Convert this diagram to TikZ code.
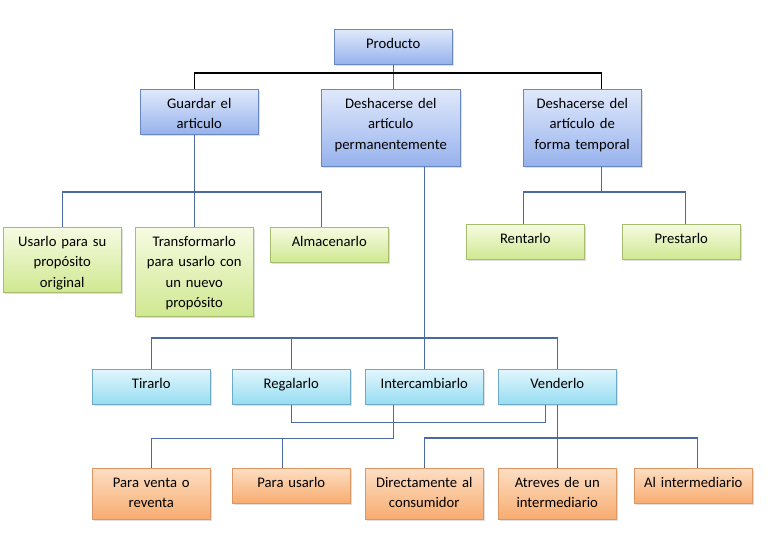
\documentclass[tikz,border=0pt]{standalone}
\usepackage{fontspec}
\setmainfont{Carlito}
\usetikzlibrary{calc,shadows}
\definecolor{linkblue}{RGB}{74,106,160}
\definecolor{bluetop}{RGB}{224,233,251}
\definecolor{bluebot}{RGB}{150,178,236}
\definecolor{blueline}{RGB}{105,135,195}
\definecolor{greentop}{RGB}{246,251,226}
\definecolor{greenbot}{RGB}{208,232,145}
\definecolor{greenline}{RGB}{165,190,110}
\definecolor{cyantop}{RGB}{226,246,252}
\definecolor{cyanbot}{RGB}{150,221,242}
\definecolor{cyanline}{RGB}{110,170,200}
\definecolor{orangetop}{RGB}{253,222,195}
\definecolor{orangebot}{RGB}{248,172,112}
\definecolor{orangeline}{RGB}{220,150,100}
\tikzset{
  bx/.style={rectangle,anchor=north west,inner xsep=1pt,inner ysep=0pt,
    text width=86.5pt,align=center,text height=14.25pt,text depth=#1,
    font=\fontsize{11}{15.4}\selectfont,
    drop shadow={shadow xshift=1.2pt,shadow yshift=-1.2pt,opacity=0.25}},
  wide/.style={text width=102.25pt},
  blu/.style={bx=#1,draw=blueline,top color=bluetop,bottom color=bluebot},
  grn/.style={bx=#1,draw=greenline,top color=greentop,bottom color=greenbot},
  cyn/.style={bx=#1,draw=cyanline,top color=cyantop,bottom color=cyanbot},
  org/.style={bx=#1,draw=orangeline,top color=orangetop,bottom color=orangebot},
  link/.style={draw=linkblue,line width=0.9pt},
  toplink/.style={draw=black,line width=0.9pt}
}
\begin{document}
\begin{tikzpicture}[x=0.75pt,y=-0.75pt]
  \path[fill=white] (0,0) rectangle (778,534);
  % first level
  \node[blu=12pt] (prod) at (334,29) {Producto};
  \node[blu=19.5pt] (guar) at (140,89) {Guardar el\\articulo};
  \node[blu=43.5pt,wide] (perm) at (321,89) {Deshacerse del\\artículo\\permanentemente};
  \node[blu=43.5pt] (temp) at (523,89) {Deshacerse del\\artículo de\\forma temporal};
  % green
  \node[grn=34.5pt] (usar) at (3,227) {Usarlo para su\\propósito\\original};
  \node[grn=52.5pt] (trans) at (135,227) {Transformarlo\\para usarlo con\\un nuevo\\propósito};
  \node[grn=12pt] (alma) at (270,227) {Almacenarlo};
  \node[grn=12pt] (rent) at (466,224) {Rentarlo};
  \node[grn=12pt] (pres) at (622,224) {Prestarlo};
  % cyan
  \node[cyn=12pt] (tira) at (92,369) {Tirarlo};
  \node[cyn=12pt] (rega) at (232,369) {Regalarlo};
  \node[cyn=12pt] (inter) at (365,369) {Intercambiarlo};
  \node[cyn=12pt] (vend) at (498,369) {Venderlo};
  % orange
  \node[org=24pt] (pven) at (92,468) {Para venta o\\reventa};
  \node[org=12pt] (pusa) at (232,468) {Para usarlo};
  \node[org=24pt] (dire) at (365,468) {Directamente al\\consumidor};
  \node[org=24pt] (atre) at (498,468) {Atreves de un\\intermediario};
  \node[org=12pt] (aint) at (634,468) {Al intermediario};
  % connectors
  \draw[link] (prod.south) -- (prod.south |- perm.north);
  \draw[toplink] ($(guar.north)+(-5,0)$) -- ++(0,-16) -| ($(temp.north)+(19,0)$);
  \draw[link] ($(guar.south)+(-5,0)$) -- (trans.north);
  \draw[link] (usar.north) -- ++(0,-35) -| ($(alma.north)+(-8,0)$);
  \draw[link] ($(temp.south)+(19,0)$) -- ++(0,26);
  \draw[link] ($(rent.north)+(-2,0)$) -- ++(0,-32) -| ($(pres.north)+(4,0)$);
  \draw[link] ($(perm.south)+(33.5,0)$) -- (inter.north);
  \draw[link] (tira.north) -- ++(0,-31) -| (vend.north);
  \draw[link] (rega.north) -- ++(0,-31);
  \draw[link] (rega.south) -- ++(0,18) -| ($(vend.south)+(-12,0)$);
  \draw[link] ($(inter.south)+(-31,0)$) -- ++(0,34) -| (pven.north);
  \draw[link] ($(pusa.north)+(-9,0)$) -- ++(0,-30);
  \draw[link] (vend.south) -- (atre.north);
  \draw[link] (dire.north) -- ++(0,-30) -| ($(aint.north)+(4,0)$);
\end{tikzpicture}
\end{document}
